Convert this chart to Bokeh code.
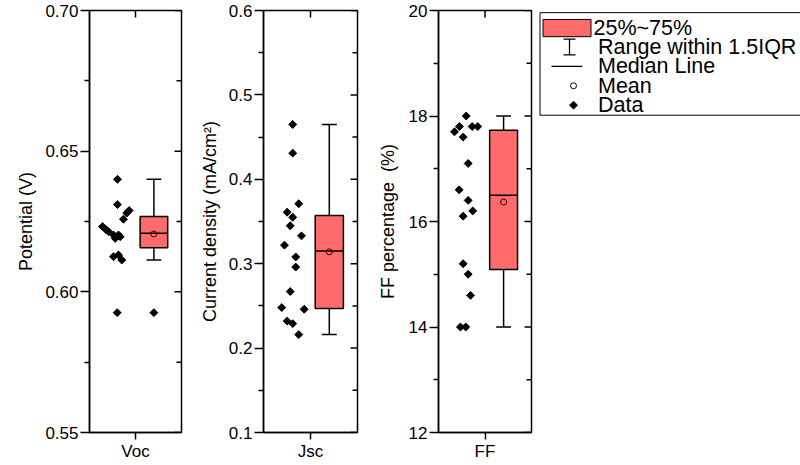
import numpy as np
from bokeh.plotting import figure
from bokeh.layouts import row
from bokeh.models import Range1d, FixedTicker, PrintfTickFormatter, ColumnDataSource
from bokeh.core.properties import value
from bokeh.embed import file_html
from bokeh.resources import INLINE

FONT = "Liberation Sans"
BOX_FILL = "#FF6B6B"

# ---------------- data ----------------
categories = ["Voc", "Jsc", "FF"]
y_titles = ["Potential (V)", "Current density (mA/cm\u00b2)", "FF percentage \u00a0(%)"]

voc = [0.640, 0.631, 0.6289, 0.628, 0.6258, 0.6232, 0.6222, 0.6214,
       0.6202, 0.6202, 0.6190, 0.6196, 0.6125, 0.6131, 0.6113, 0.5926]
jsc = [0.465, 0.431, 0.371, 0.361, 0.355, 0.345, 0.333, 0.322,
       0.308, 0.296, 0.267, 0.248, 0.246, 0.232, 0.229, 0.216]
ff = [18.0, 17.8, 17.7, 17.8, 17.8, 17.6, 17.1, 16.6,
      16.4, 16.2, 16.1, 15.2, 15.0, 14.6, 14.0, 14.0]

# horizontal jitter of the data points (fraction of panel width)
voc_jitter = [0.014, 0.014, 0.141, 0.115, 0.079, -0.149, -0.113, -0.084,
              -0.029, 0.025, -0.011, 0.043, -0.029, 0.025, 0.061, 0.011]
jsc_jitter = [0.021, 0.021, 0.085, -0.038, 0.021, -0.006, 0.114, -0.067,
              0.053, 0.053, -0.006, -0.096, 0.143, -0.038, 0.021, 0.085]
ff_jitter = [0.008, -0.065, -0.118, 0.072, 0.132, -0.025, 0.029, -0.068,
             0.029, 0.078, -0.025, -0.025, 0.029, 0.054, -0.054, 0.003]

# quartiles as drawn
q1 = [0.6157, 0.2468, 15.09]
q3 = [0.6268, 0.3571, 17.73]

y_limits = [(0.55, 0.70), (0.1, 0.6), (12, 20)]
y_major = [[0.55, 0.60, 0.65, 0.70],
           [0.1, 0.2, 0.3, 0.4, 0.5, 0.6],
           [12, 14, 16, 18, 20]]
y_minor = [[0.575, 0.625, 0.675],
           [0.15, 0.25, 0.35, 0.45, 0.55],
           [13, 15, 17, 19]]
y_fmt = ["%.2f", "%.1f", "%d"]

legend_labels = ["25%~75%", "Range within 1.5IQR", "Median Line", "Mean", "Data"]

series = [voc, jsc, ff]
jitters = [voc_jitter, jsc_jitter, ff_jitter]

# ---------------- layout constants ----------------
H = 465
CENTER = 0.5
DATA_X = 0.29
BOX_X = 0.70
BOX_W = 0.30
CAP_W = 0.16
panel_geom = [  # width, min_border_left, min_border_right, title standoff
    (183, 89, 2, 6),
    (176, 80, 2, 6),
    (176, 79, 4, 8),
]


def style_axis(ax):
    ax.axis_line_color = "black"
    ax.axis_line_width = 1.5
    ax.major_tick_line_color = "black"
    ax.major_tick_line_width = 1.5
    ax.minor_tick_line_color = "black"
    ax.minor_tick_line_width = 1.5


def make_panel(i):
    vals = np.array(series[i], dtype=float)
    jit = np.array(jitters[i], dtype=float)
    w, bl, br, ts = panel_geom[i]
    lo, hi = y_limits[i]
    p = figure(width=w, height=H, x_range=Range1d(0, 1), y_range=Range1d(lo, hi),
               toolbar_location=None, output_backend="svg",
               min_border_left=bl, min_border_right=br,
               min_border_top=10, min_border_bottom=33,
               outline_line_color="black", outline_line_width=1.5,
               background_fill_color="white", border_fill_color="white")
    p.grid.visible = False

    # bottom axis
    xa = p.xaxis[0]
    style_axis(xa)
    xa.ticker = FixedTicker(ticks=[CENTER], minor_ticks=[])
    xa.major_label_overrides = {CENTER: categories[i]}
    xa.major_tick_out = 7
    xa.major_tick_in = 0
    xa.major_label_standoff = 2
    xa.major_label_text_font = FONT
    xa.major_label_text_font_size = "17px"
    xa.major_label_text_color = "black"

    # left axis
    ya = p.yaxis[0]
    style_axis(ya)
    ya.ticker = FixedTicker(ticks=y_major[i], minor_ticks=y_minor[i])
    ya.formatter = PrintfTickFormatter(format=y_fmt[i])
    ya.major_tick_out = 9
    ya.major_tick_in = 0
    ya.minor_tick_out = 5
    ya.minor_tick_in = 0
    ya.major_label_standoff = 2
    ya.major_label_text_font = FONT
    ya.major_label_text_font_size = "17px"
    ya.major_label_text_color = "black"
    ya.axis_label = y_titles[i]
    ya.axis_label_text_font = FONT
    ya.axis_label_text_font_size = "18px"
    ya.axis_label_text_font_style = "normal"
    ya.axis_label_text_color = "black"
    ya.axis_label_standoff = ts

    # mirror ticks on the top and right frame edges (pointing inward)
    p.ray(x=[CENTER], y=[hi], length=7, length_units="screen", angle=-np.pi / 2,
          line_color="black", line_width=1.5)
    p.ray(x=[1] * len(y_major[i]), y=y_major[i], length=7, length_units="screen",
          angle=np.pi, line_color="black", line_width=1.5)
    p.ray(x=[1] * len(y_minor[i]), y=y_minor[i], length=5, length_units="screen",
          angle=np.pi, line_color="black", line_width=1.5)

    # box statistics
    bq1, bq3 = q1[i], q3[i]
    iqr = bq3 - bq1
    lo_f, hi_f = bq1 - 1.5 * iqr, bq3 + 1.5 * iqr
    inside = vals[(vals >= lo_f) & (vals <= hi_f)]
    outl = vals[(vals < lo_f) | (vals > hi_f)]
    wlo, whi = inside.min(), inside.max()
    med = float(np.median(vals))
    mean = float(vals.mean())

    # whiskers
    p.segment(x0=[BOX_X, BOX_X], x1=[BOX_X, BOX_X], y0=[bq3, bq1], y1=[whi, wlo],
              line_color="black", line_width=1.5)
    p.segment(x0=[BOX_X - CAP_W / 2] * 2, x1=[BOX_X + CAP_W / 2] * 2,
              y0=[whi, wlo], y1=[whi, wlo], line_color="black", line_width=1.5)
    # box
    p.vbar(x=[BOX_X], width=BOX_W, bottom=[bq1], top=[bq3],
           fill_color=BOX_FILL, line_color="black", line_width=1.5)
    # median
    p.segment(x0=[BOX_X - BOX_W / 2], x1=[BOX_X + BOX_W / 2], y0=[med], y1=[med],
              line_color="black", line_width=1.5)
    # mean
    p.scatter(x=[BOX_X], y=[mean], marker="circle", size=6, fill_color=None,
              line_color="#3a0000", line_width=1)
    # outliers
    if len(outl):
        p.scatter(x=[BOX_X] * len(outl), y=outl, marker="square", angle=np.pi / 4,
                  size=5.6, fill_color="black", line_color="black", line_width=1)
    # data points
    src = ColumnDataSource(dict(x=DATA_X + jit, y=vals))
    p.scatter(x="x", y="y", source=src, marker="square", angle=np.pi / 4,
              size=5.6, fill_color="black", line_color="black", line_width=1)
    return p


panels = [make_panel(i) for i in range(3)]

# ---------------- legend panel ----------------
LW, LH = 265, 152
lg = figure(width=LW, height=LH, x_range=Range1d(0, LW), y_range=Range1d(LH, 0),
            toolbar_location=None, output_backend="svg", min_border=0,
            x_axis_location=None, y_axis_location=None, outline_line_color=None,
            background_fill_color="white", border_fill_color="white")
lg.grid.visible = False
# border (right side runs off the page)
lg.multi_line(xs=[[LW, 4.5, 4.5, LW]], ys=[[3, 3, 146, 146]],
              line_color="black", line_width=1)
row_y = [24, 51, 78, 105, 132]
# 25%~75% swatch
lg.quad(left=[7.5], right=[55.5], top=[12.5], bottom=[36.5], fill_color=BOX_FILL,
        line_color="black", line_width=1)
# whisker symbol
lg.segment(x0=[34, 28, 28], x1=[34, 40, 40], y0=[40, 40, 62], y1=[62, 40, 62],
           line_color="black", line_width=1.3)
# median line
lg.segment(x0=[16], x1=[47], y0=[row_y[2]], y1=[row_y[2]], line_color="black", line_width=1.3)
# mean
lg.scatter(x=[38], y=[row_y[3]], marker="circle", size=6, fill_color="white",
           line_color="black", line_width=1)
# data
lg.scatter(x=[38], y=[row_y[4]], marker="square", angle=np.pi / 4, size=5.6,
           fill_color="black", line_color="black", line_width=1)
lg.text(x=[58, 62.5, 62.5, 62.5, 62.5], y=row_y, text=legend_labels,
        text_font=value(FONT), text_font_size="21.5px", text_color="black",
        text_align="left", text_baseline="middle")

layout = row(*panels, lg, spacing=0)

with open("out.html", "w") as f:
    f.write(file_html(layout, INLINE))
